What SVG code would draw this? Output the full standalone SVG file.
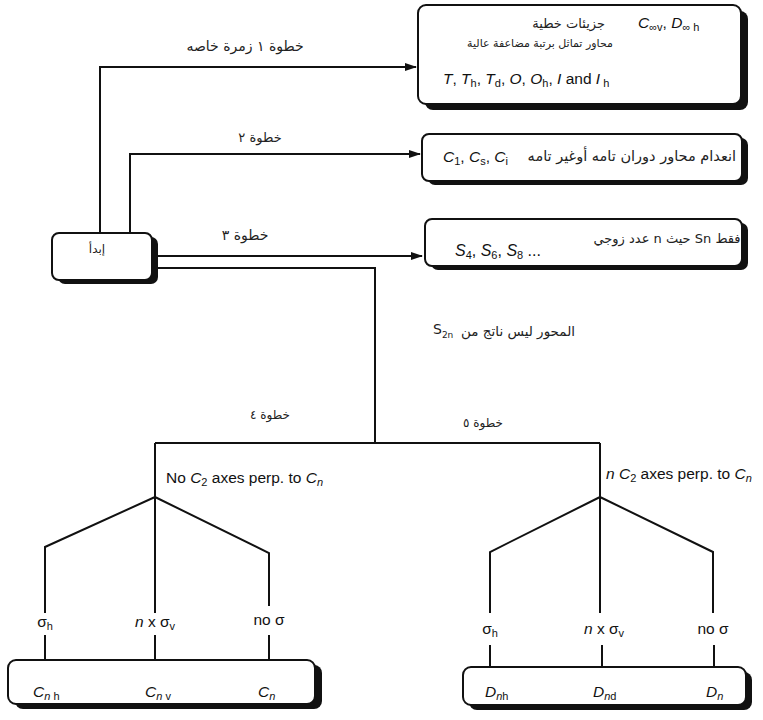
<svg xmlns="http://www.w3.org/2000/svg" width="763" height="720" viewBox="0 0 763 720">
<defs>
<style>
.ln{fill:none;stroke:#111;stroke-width:2}
.box{fill:#fff;stroke:#111;stroke-width:2}
.sh{fill:#111}
.ar{font-family:'DejaVu Sans','Noto Sans',sans-serif;font-size:12px;fill:#222}
.lat{font-family:'Liberation Sans',Arial,sans-serif;font-size:15.5px;fill:#111}
.it{font-style:italic}
.sub{font-size:11px}
.rtl{direction:rtl;unicode-bidi:embed}
</style>
<marker id="arr" markerUnits="userSpaceOnUse" markerWidth="12" markerHeight="8" refX="11" refY="4" orient="auto">
<path d="M0,0 L12,4 L0,8 z" fill="#111"/>
</marker>
</defs>
<rect width="763" height="720" fill="#fff"/>

<g id="connectors">
<path class="ln" d="M100,233 V67 H416" marker-end="url(#arr)"/>
<path class="ln" d="M130,233 V154 H420" marker-end="url(#arr)"/>
<path class="ln" d="M152,256 H422" marker-end="url(#arr)"/>
<path class="ln" d="M152,268 H375 V443"/>
<path class="ln" d="M155,443 H600"/>
<path class="ln" d="M155,443 V613 M155,497 L45,547 V613 M155,497 L269,553 V606"/>
<path class="ln" d="M45,635 V660 M155,635 V660 M269,635 V660"/>
<path class="ln" d="M600,443 V613 M600,497 L490,552 V613 M600,497 L713,552 V613"/>
<path class="ln" d="M490,645 V667 M602,645 V667 M714,645 V667"/>
</g>

<g id="labels">
<text class="ar" x="245" y="51" text-anchor="middle" style="font-size:14px">خطوة ١ زمرة خاصه</text>
<text class="ar" x="260" y="142" text-anchor="middle" style="font-size:13px">خطوة ٢</text>
<text class="ar" x="245" y="240" text-anchor="middle" style="font-size:14px">خطوة ٣</text>
<text class="ar" x="270" y="419" text-anchor="middle">خطوة ٤</text>
<text class="ar" x="483" y="427" text-anchor="middle">خطوة ٥</text>
<text class="ar" x="575" y="336" text-anchor="end" style="font-size:13.5px">المحور ليس ناتج من</text>
<text class="ar" x="433" y="334" style="font-size:14px">S<tspan class="sub" dy="4" style="font-size:9px">2n</tspan></text>
<text class="lat" x="166" y="483">No <tspan class="it">C</tspan><tspan class="sub" dy="3">2</tspan><tspan dy="-3"> axes perp. to </tspan><tspan class="it">C</tspan><tspan class="sub it" dy="3">n</tspan></text>
<text class="lat" x="606" y="479"><tspan class="it">n C</tspan><tspan class="sub" dy="3">2</tspan><tspan dy="-3"> axes perp. to </tspan><tspan class="it">C</tspan><tspan class="sub it" dy="3">n</tspan></text>
<text class="lat" x="45" y="627" text-anchor="middle">σ<tspan class="sub" dy="3">h</tspan></text>
<text class="lat" x="155" y="627" text-anchor="middle"><tspan class="it">n</tspan> x σ<tspan class="sub" dy="3">v</tspan></text>
<text class="lat" x="269" y="625" text-anchor="middle">no σ</text>
<text class="lat" x="490" y="634" text-anchor="middle">σ<tspan class="sub" dy="3">h</tspan></text>
<text class="lat" x="604" y="634" text-anchor="middle"><tspan class="it">n</tspan> x σ<tspan class="sub" dy="3">v</tspan></text>
<text class="lat" x="713" y="634" text-anchor="middle">no σ</text>
</g>

<g id="start">
<rect class="sh" x="58" y="237" width="100" height="47" rx="7"/>
<rect class="box" x="52" y="233" width="100" height="47" rx="7"/>
<text class="ar" x="97" y="253" text-anchor="middle">إبدأ</text>
</g>

<g id="box1">
<rect class="sh" x="425" y="11" width="323" height="99" rx="8"/>
<rect class="box" x="418" y="5" width="323" height="99" rx="8"/>
<text class="ar" x="605" y="28" text-anchor="end" style="font-size:13px">جزيئات خطية</text>
<text class="lat" x="638" y="28"><tspan class="it">C</tspan><tspan class="sub" dy="3">∞v</tspan><tspan dy="-3">, </tspan><tspan class="it">D</tspan><tspan class="sub" dy="3">∞ h</tspan></text>
<text class="ar" x="540" y="47" text-anchor="middle" style="font-size:11px">محاور تماثل برتبة مضاعفة عالية</text>
<text class="lat" x="443" y="84"><tspan class="it">T</tspan>, <tspan class="it">T</tspan><tspan class="sub" dy="3">h</tspan><tspan dy="-3">, </tspan><tspan class="it">T</tspan><tspan class="sub" dy="3">d</tspan><tspan dy="-3">, </tspan><tspan class="it">O</tspan>, <tspan class="it">O</tspan><tspan class="sub" dy="3">h</tspan><tspan dy="-3">, </tspan><tspan class="it">I</tspan> and <tspan class="it">I</tspan><tspan class="sub" dy="3"> h</tspan></text>
</g>

<g id="box2">
<rect class="sh" x="428" y="138" width="320" height="47" rx="7"/>
<rect class="box" x="422" y="134" width="320" height="47" rx="7"/>
<text class="lat" x="443" y="162"><tspan class="it">C</tspan><tspan class="sub" dy="3">1</tspan><tspan dy="-3">, </tspan><tspan class="it">C</tspan><tspan class="sub" dy="3">s</tspan><tspan dy="-3">, </tspan><tspan class="it">C</tspan><tspan class="sub" dy="3">i</tspan></text>
<text class="ar" x="736" y="161" text-anchor="end" style="font-size:14.5px">انعدام محاور دوران تامه أوغير تامه</text>
</g>

<g id="box3">
<rect class="sh" x="431" y="223" width="317" height="47" rx="7"/>
<rect class="box" x="425" y="219" width="317" height="47" rx="7"/>
<text class="ar rtl" x="667" y="243" text-anchor="middle" style="font-size:13px">فقط Sn حيث n عدد زوجي</text>
<text class="lat" x="455" y="256" style="font-size:16px"><tspan class="it">S</tspan><tspan class="sub" dy="3">4</tspan><tspan dy="-3">, </tspan><tspan class="it">S</tspan><tspan class="sub" dy="3">6</tspan><tspan dy="-3">, </tspan><tspan class="it">S</tspan><tspan class="sub" dy="3">8</tspan><tspan dy="-3"> ...</tspan></text>
</g>

<g id="boxC">
<rect class="sh" x="15" y="665" width="307" height="44" rx="8"/>
<rect class="box" x="8" y="660" width="307" height="44" rx="8"/>
<text class="lat" x="33" y="697"><tspan class="it">C</tspan><tspan class="sub it" dy="3">n</tspan><tspan class="sub"> h</tspan></text>
<text class="lat" x="145" y="697"><tspan class="it">C</tspan><tspan class="sub it" dy="3">n</tspan><tspan class="sub"> v</tspan></text>
<text class="lat" x="258" y="697"><tspan class="it">C</tspan><tspan class="sub it" dy="3">n</tspan></text>
</g>

<g id="boxD">
<rect class="sh" x="469" y="672" width="283" height="38" rx="8"/>
<rect class="box" x="463" y="667" width="283" height="38" rx="8"/>
<text class="lat" x="485" y="697"><tspan class="it">D</tspan><tspan class="sub it" dy="3">n</tspan><tspan class="sub">h</tspan></text>
<text class="lat" x="593" y="697"><tspan class="it">D</tspan><tspan class="sub it" dy="3">n</tspan><tspan class="sub">d</tspan></text>
<text class="lat" x="706" y="697"><tspan class="it">D</tspan><tspan class="sub it" dy="3">n</tspan></text>
</g>
</svg>
